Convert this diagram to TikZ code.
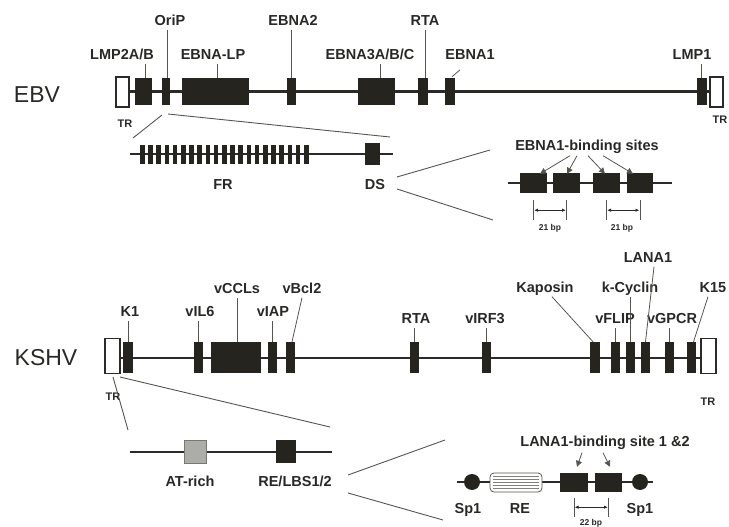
\documentclass[tikz,border=0pt]{standalone}
\usepackage{fontspec}
\setmainfont{Liberation Sans}
\usetikzlibrary{arrows.meta,calc}
\definecolor{boxc}{RGB}{38,36,30}
\definecolor{linec}{RGB}{42,42,38}
\definecolor{textc}{RGB}{40,40,38}
\definecolor{leadc}{RGB}{85,85,80}
\definecolor{atc}{RGB}{172,172,168}
\begin{document}
\begin{tikzpicture}[x=1pt,y=-1pt,
  gene/.style={fill=boxc,inner sep=0pt,minimum height=27pt},
  kgene/.style={fill=boxc,inner sep=0pt,minimum height=31pt},
  trbox/.style={draw=linec,line width=1.3pt,fill=white,inner sep=0pt},
  genome/.style={draw=linec,line width=2.2pt},
  leader/.style={draw=leadc,line width=0.8pt},
  zoomline/.style={draw=leadc,line width=0.9pt},
  lbl/.style={font=\bfseries\fontsize{14.5}{16}\selectfont,text=textc,inner sep=0pt,text height=10pt,text depth=3pt},
  small/.style={font=\bfseries\fontsize{8.5}{10}\selectfont,text=textc,inner sep=0pt},
  trl/.style={font=\bfseries\fontsize{11}{12}\selectfont,text=textc,inner sep=0pt},
  big/.style={font=\fontsize{23}{26}\selectfont,text=textc,inner sep=0pt},
  bindarrow/.style={draw=leadc,line width=0.8pt,-{Triangle[length=6pt,width=6pt]}},
  dimarrow/.style={draw=linec,line width=0.8pt,{Triangle[length=3.5pt,width=3pt]}-{Triangle[length=3.5pt,width=3pt]}},
  dimbar/.style={draw=leadc,line width=0.8pt},
  sitebox/.style={fill=boxc,inner sep=0pt,minimum height=20pt},
  frtick/.style={fill=boxc,inner sep=0pt,minimum width=4.6pt,minimum height=19pt},
  spone/.style={circle,fill=boxc,inner sep=0pt,minimum size=16pt},
]
\useasboundingbox (0,0) rectangle (729,527);

% ================= EBV =================
\coordinate (ebvL) at (128,91.5);
\coordinate (ebvR) at (711,91.5);
\draw[genome] (ebvL) -- (ebvR);
\node[trbox,minimum width=13pt,minimum height=30pt] (etr1) at (122.5,92) {};
\node[gene,minimum width=17pt] (lmp2) at (143.5,91.5) {};
\node[gene,minimum width=8pt] (orip) at (166,91.5) {};
\node[gene,minimum width=67pt] (eblp) at (215.5,91.5) {};
\node[gene,minimum width=9pt] (ebna2) at (291.5,91.5) {};
\node[gene,minimum width=37pt] (ebna3) at (376.5,91.5) {};
\node[gene,minimum width=10pt] (erta) at (423,91.5) {};
\node[gene,minimum width=10pt] (ebna1) at (450,91.5) {};
\node[gene,minimum width=10pt] (lmp1) at (702,91.5) {};
\node[trbox,minimum width=13pt,minimum height=30pt] (etr2) at (716.5,92) {};

\node[big] (ebv) at (37,95) {EBV};
\node[lbl] (l-lmp2) at (122,56) {LMP2A/B};
\node[lbl] (l-orip) at (170,22) {OriP};
\node[lbl] (l-eblp) at (213,56) {EBNA-LP};
\node[lbl] (l-ebna2) at (293,22) {EBNA2};
\node[lbl] (l-ebna3) at (370,56) {EBNA3A/B/C};
\node[lbl] (l-erta) at (425,22) {RTA};
\node[lbl] (l-ebna1) at (470,56) {EBNA1};
\node[lbl] (l-lmp1) at (692,56) {LMP1};
\node[trl] (l-etr1) at (125,124) {TR};
\node[trl] (l-etr2) at (720,120) {TR};

\draw[leader] ($(lmp2.north)+(1.5,0)$) -- ($(lmp2.north |- l-lmp2.south)+(1.5,1)$);
\draw[leader] ($(orip.north)+(1,0)$) -- ($(orip.north |- l-orip.south)+(1,1)$);
\draw[leader] ($(eblp.north)+(1.5,0)$) -- ($(eblp.north |- l-eblp.south)+(1.5,1)$);
\draw[leader] (ebna2.north) -- ($(ebna2.north |- l-ebna2.south)+(0,1)$);
\draw[leader] ($(ebna3.north)+(3.5,0)$) -- ($(ebna3.north |- l-ebna3.south)+(3.5,1)$);
\draw[leader] ($(erta.north)+(2,0)$) -- ($(erta.north |- l-erta.south)+(2,1)$);
\draw[leader] ($(ebna1.north)+(2,-1)$) -- ($(ebna1.north)+(10,-8)$);
\draw[leader] ($(lmp1.north)+(-1,0)$) -- ($(lmp1.north |- l-lmp1.south)+(-1,1)$);

% zoom to OriP
\coordinate (zA1) at (162,115); \coordinate (zA2) at (133,138);
\coordinate (zB1) at (168,114); \coordinate (zB2) at (390,137);
\draw[zoomline] (zA1) -- (zA2);
\draw[zoomline] (zB1) -- (zB2);

% FR / DS
\coordinate (frL) at (130,153.5); \coordinate (frR) at (393,153.5);
\draw[genome,line width=2pt] (frL) -- (frR);
\foreach \i in {0,...,20} \node[frtick] (fr\i) at ({142.3+\i*8.2},154) {};
\node[fill=boxc,inner sep=0pt,minimum width=15pt,minimum height=22pt] (ds) at (372.5,154) {};
\node[lbl] (l-fr) at (223,186) {FR};
\node[lbl] (l-ds) at (375,186) {DS};

% zoom to DS
\coordinate (zC1) at (397,177); \coordinate (zC2) at (490,150);
\coordinate (zD1) at (397,189); \coordinate (zD2) at (493,220);
\draw[zoomline] (zC1) -- (zC2);
\draw[zoomline] (zD1) -- (zD2);

% EBNA1 binding sites
\coordinate (bsL) at (508,183); \coordinate (bsR) at (672,183);
\draw[genome,line width=2pt] (bsL) -- (bsR);
\node[sitebox,minimum width=27pt] (b1) at (533.5,183) {};
\node[sitebox,minimum width=27pt] (b2) at (566.5,183) {};
\node[sitebox,minimum width=27pt] (b3) at (606.5,183) {};
\node[sitebox,minimum width=26pt] (b4) at (640,183) {};
\node[lbl] (l-bs) at (587,147) {EBNA1-binding sites};
\draw[bindarrow] ($(l-bs.south)+(-17,2)$) -- ($(b1.north)+(6.5,1)$);
\draw[bindarrow] ($(l-bs.south)+(-10,2)$) -- ($(b2.north)+(0.5,1)$);
\draw[bindarrow] ($(l-bs.south)+(1,2)$) -- ($(b3.north)+(-1.5,1)$);
\draw[bindarrow] ($(l-bs.south)+(16,2)$) -- ($(b4.north)+(-7,1)$);

\draw[dimbar] ($(b1.south)+(0,7)$) -- ($(b1.south)+(0,27)$);
\draw[dimbar] ($(b2.south)+(0,7)$) -- ($(b2.south)+(0,27)$);
\draw[dimarrow] ($(b1.south)+(1,17)$) -- ($(b2.south)+(-1,17)$);
\node[small] (l-bp1) at (550,228) {21 bp};
\draw[dimbar] ($(b3.south)+(0,7)$) -- ($(b3.south)+(0,27)$);
\draw[dimbar] ($(b4.south)+(0,7)$) -- ($(b4.south)+(0,27)$);
\draw[dimarrow] ($(b3.south)+(1,17)$) -- ($(b4.south)+(-1,17)$);
\node[small] (l-bp2) at (622,228) {21 bp};

% ================= KSHV =================
\coordinate (kL) at (119,358);
\coordinate (kR) at (702,358);
\draw[genome] (kL) -- (kR);
\node[trbox,minimum width=15pt,minimum height=35pt] (ktr1) at (112.5,356) {};
\node[kgene,minimum width=10pt] (k1) at (128,357.5) {};
\node[kgene,minimum width=9pt] (vil6) at (198.5,357.5) {};
\node[kgene,minimum width=50pt] (vccl) at (236,357.5) {};
\node[kgene,minimum width=9pt] (viap) at (272.5,357.5) {};
\node[kgene,minimum width=9pt] (vbcl) at (290.5,357.5) {};
\node[kgene,minimum width=9pt] (krta) at (414.5,357.5) {};
\node[kgene,minimum width=9pt] (virf) at (486.5,357.5) {};
\node[kgene,minimum width=10pt] (kap) at (595,357.5) {};
\node[kgene,minimum width=9pt] (vflip) at (615.5,357.5) {};
\node[kgene,minimum width=9pt] (kcyc) at (630.5,357.5) {};
\node[kgene,minimum width=9pt] (lana) at (645.5,357.5) {};
\node[kgene,minimum width=9pt] (vgpcr) at (669.5,357.5) {};
\node[kgene,minimum width=9pt] (k15) at (691.5,357.5) {};
\node[trbox,minimum width=15pt,minimum height=35pt] (ktr2) at (708.5,356) {};

\node[big] (kshv) at (46,358) {KSHV};
\node[lbl] (l-k1) at (130,313) {K1};
\node[lbl] (l-vil6) at (200,313) {vIL6};
\node[lbl] (l-vccl) at (237,290) {vCCLs};
\node[lbl] (l-viap) at (273,313) {vIAP};
\node[lbl] (l-vbcl) at (302,290) {vBcl2};
\node[lbl] (l-krta) at (416,320) {RTA};
\node[lbl] (l-virf) at (485,320) {vIRF3};
\node[lbl] (l-kap) at (545,289) {Kaposin};
\node[lbl] (l-vflip) at (615,320) {vFLIP};
\node[lbl] (l-kcyc) at (630,289) {k-Cyclin};
\node[lbl] (l-lana) at (648,259) {LANA1};
\node[lbl] (l-vgpcr) at (672,320) {vGPCR};
\node[lbl] (l-k15) at (713,289) {K15};
\node[trl] (l-ktr1) at (113,397) {TR};
\node[trl] (l-ktr2) at (708,402) {TR};

\draw[leader] (k1.north) -- ($(k1.north |- l-k1.south)+(0,1)$);
\draw[leader] (vil6.north) -- ($(vil6.north |- l-vil6.south)+(0,1)$);
\draw[leader] ($(vccl.north)+(1,0)$) -- ($(vccl.north |- l-vccl.south)+(1,1)$);
\draw[leader] (viap.north) -- ($(viap.north |- l-viap.south)+(0,1)$);
\draw[leader] ($(vbcl.north)+(1.5,0)$) -- ($(l-vbcl.south)+(0,1)$);
\draw[leader] (krta.north) -- ($(krta.north |- l-krta.south)+(0,1)$);
\draw[leader] (virf.north) -- ($(virf.north |- l-virf.south)+(0,1)$);
\draw[leader] ($(kap.north)+(-2,0)$) -- ($(l-kap.south)+(7,1)$);
\draw[leader] (vflip.north) -- ($(vflip.north |- l-vflip.south)+(0,1)$);
\draw[leader] (kcyc.north) -- ($(kcyc.north |- l-kcyc.south)+(0,1)$);
\draw[leader] (lana.north) -- ($(l-lana.south)+(6,1)$);
\draw[leader] (vgpcr.north) -- ($(vgpcr.north |- l-vgpcr.south)+(0,1)$);
\draw[leader] ($(k15.north)+(2,0)$) -- ($(l-k15.south)+(-5,1)$);

% zoom to TR
\coordinate (zE1) at (113,377); \coordinate (zE2) at (128,430);
\coordinate (zF1) at (120,377); \coordinate (zF2) at (330,427);
\draw[zoomline] (zE1) -- (zE2);
\draw[zoomline] (zF1) -- (zF2);

% AT-rich / RE-LBS
\coordinate (atL) at (130,452); \coordinate (atR) at (332,452);
\draw[genome] (atL) -- (atR);
\node[fill=atc,draw=leadc!80,line width=0.6pt,inner sep=0pt,minimum width=22pt,minimum height=23pt] (atbox) at (195,451.5) {};
\node[fill=boxc,inner sep=0pt,minimum width=20pt,minimum height=23pt] (lbs) at (286,451.5) {};
\node[lbl] (l-at) at (190,483) {AT-rich};
\node[lbl] (l-lbs) at (295,483) {RE/LBS1/2};

% zoom to RE/LBS
\coordinate (zG1) at (348,475); \coordinate (zG2) at (445,440);
\coordinate (zH1) at (348,493); \coordinate (zH2) at (443,520);
\draw[zoomline] (zG1) -- (zG2);
\draw[zoomline] (zH1) -- (zH2);

% LANA1 binding sites
\coordinate (lnL) at (457,482); \coordinate (lnR) at (653,482);
\draw[genome,line width=2pt] (lnL) -- (lnR);
\node[spone] (sp1a) at (472,482) {};
\node[draw=leadc,line width=0.8pt,fill=white,rounded corners=4pt,inner sep=0pt,minimum width=52pt,minimum height=19pt] (re) at (516,482.5) {};
\foreach \dy in {-6,-3,0,3,6}
  \draw[leadc!75,line width=0.6pt] ($(re.west)+(3,\dy)$) -- ($(re.east)+(-3,\dy)$);
\node[fill=boxc,inner sep=0pt,minimum width=28pt,minimum height=19pt] (lb1) at (574,482.5) {};
\node[fill=boxc,inner sep=0pt,minimum width=27pt,minimum height=19pt] (lb2) at (608.5,482.5) {};
\node[spone] (sp1b) at (640,482) {};
\node[lbl] (l-sp1a) at (468,510) {Sp1};
\node[lbl] (l-re) at (520,510) {RE};
\node[lbl] (l-sp1b) at (640,510) {Sp1};
\node[lbl] (l-lbs12) at (605,443) {LANA1-binding site 1 \&2};
\draw[bindarrow] ($(l-lbs12.south)+(-23,3)$) -- ($(lb1.north)+(3,-6)$);
\draw[bindarrow] ($(l-lbs12.south)+(-2,3)$) -- ($(lb2.north)+(1.5,-6)$);
\draw[dimbar] ($(lb1.south)+(0,6)$) -- ($(lb1.south)+(0,25)$);
\draw[dimbar] ($(lb2.south)+(0,6)$) -- ($(lb2.south)+(0,25)$);
\draw[dimarrow] ($(lb1.south)+(1,15)$) -- ($(lb2.south)+(-1,15)$);
\node[small,anchor=north] (l-bp3) at (591,519) {22 bp};
\end{tikzpicture}
\end{document}
